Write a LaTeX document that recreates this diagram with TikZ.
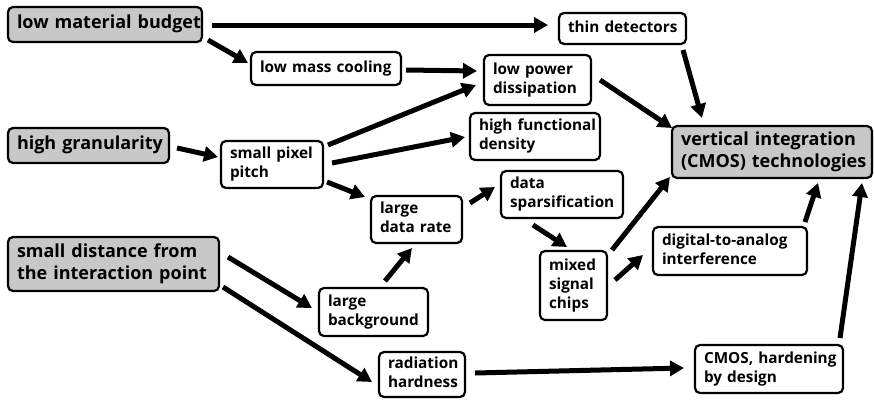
\documentclass[tikz,border=0pt]{standalone}
\usepackage{fontspec}
\setmainfont{Open Sans}
\usetikzlibrary{arrows.meta,calc}
\definecolor{boxgray}{RGB}{200,200,200}
\newcommand\whitefont{\fontsize{15.3}{19}\selectfont\bfseries}
\newcommand\grayfont{\fontsize{18}{21.5}\selectfont\bfseries}
\tikzset{
  box/.style={draw, line width=2.2pt, rounded corners=5pt, inner xsep=9pt, inner ysep=2pt,
    outer sep=0pt, align=left, font=\whitefont},
  keybox/.style={box, fill=boxgray, font=\grayfont},
  arr/.style={line width=5pt, -{Triangle[length=14pt,width=15pt]}}
}
% a box given by its left, top, right and bottom edges; it widens if its text needs more room
\newlength\natw
\newcommand\mkbox[8]{%
  \settowidth\natw{#2\begin{tabular}{@{}l@{}}#8\end{tabular}}%
  \pgfmathsetlengthmacro\tw{max(\natw,(#6)-(#4)-18)}%
  \node[#1, text width=\tw, minimum height={(#7)-(#5)}, anchor=west]
    (#3) at (#4, {((#5)+(#7))/2}) {\begin{tabular}{@{}l@{}}#8\end{tabular}};}
\newcommand\wbox{\mkbox{box}{\whitefont}}
\newcommand\gbox{\mkbox{keybox}{\grayfont}}
\begin{document}
\begin{tikzpicture}[x=1pt, y=-1pt]
\useasboundingbox (0,0) rectangle (874,399);
\gbox{lmb}{8}{7}{202}{42}{low material budget}
\wbox{td}{559}{13}{686}{44}{thin detectors}
\wbox{lmc}{251}{52}{401}{85}{low mass cooling}
\wbox{lpd}{484}{55}{591}{105}{low power\\dissipation}
\gbox{hg}{8}{128}{169}{163}{high granularity}
\wbox{hfd}{470}{113}{600}{160}{high functional\\density}
\wbox{spp}{221}{141}{323}{188}{small pixel\\pitch}
\gbox{vi}{672}{126}{872}{178}{vertical integration\\(CMOS) technologies}
\wbox{ds}{501}{171}{623}{218}{data\\sparsification}
\wbox{ldr}{371}{196}{462}{243}{large\\data rate}
\gbox{sd}{8}{237}{219}{291}{small distance from\\the interaction point}
\wbox{lb}{319}{288}{428}{336}{large\\background}
\wbox{msc}{540}{251}{607}{320}{mixed\\signal\\chips}
\wbox{dta}{653}{227}{807}{275}{digital-to-analog\\interference}
\wbox{rh}{379}{352}{465}{397}{radiation\\hardness}
\wbox{ch}{695}{345}{843}{393}{CMOS, hardening\\by design}

\draw[arr] ($(lmb.east)+(10,0.5)$) -- ($(td.west)+(-11,-3.5)$);
\draw[arr] ($(lmb.south east)+(6,-2)$) -- ($(lmc.west)+(-3,-5.5)$);
\draw[arr] ($(lmc.east)+(5,1.5)$) -- ($(lpd.west)+(-7,-9)$);
\draw[arr] ($(spp.north east)+(5,4)$) -- ($(lpd.west)+(-8,5)$);
\draw[arr] ($(spp.east)+(9,-1.5)$) -- ($(hfd.west)+(-5,0.5)$);
\draw[arr] ($(spp.south east)+(4,-6)$) -- ($(ldr.north west)+(-6,1)$);
\draw[arr] ($(hg.east)+(8,2.5)$) -- ($(spp.west)+(-3,-7.5)$);
\draw[arr] ($(td.south east)+(-3,6)$) -- ($(vi.north west)+(30,-8)$);
\draw[arr] ($(lpd.east)+(9,0)$) -- ($(vi.north west)+(0,2)$);
\draw[arr] ($(msc.north east)+(5,-1)$) -- ($(vi.south west)+(-2,-1)$);
\draw[arr] ($(dta.north east)+(-2,-5)$) -- ($(vi.south east)+(-54,5)$);
\draw[arr] ($(ch.north east)+(-3,-7)$) -- ($(vi.south east)+(-10,5)$);
\draw[arr] ($(ldr.east)+(8,-16.5)$) -- ($(ds.west)+(-6,-7.5)$);
\draw[arr] ($(ds.south west)+(32,7)$) -- ($(msc.north west)+(27,-4)$);
\draw[arr] ($(msc.east)+(8,-5.5)$) -- ($(dta.west)+(-10,4)$);
\draw[arr] ($(sd.east)+(9,-7)$) -- ($(lb.west)+(-7,-4)$);
\draw[arr] ($(sd.east)+(4,23)$) -- ($(rh.west)+(-7,7.5)$);
\draw[arr] ($(lb.north)+(11.5,-7)$) -- ($(ldr.south)+(-4.5,5)$);
\draw[arr] ($(rh.east)+(10,-1.5)$) -- ($(ch.west)+(-11,-1)$);
\end{tikzpicture}
\end{document}
